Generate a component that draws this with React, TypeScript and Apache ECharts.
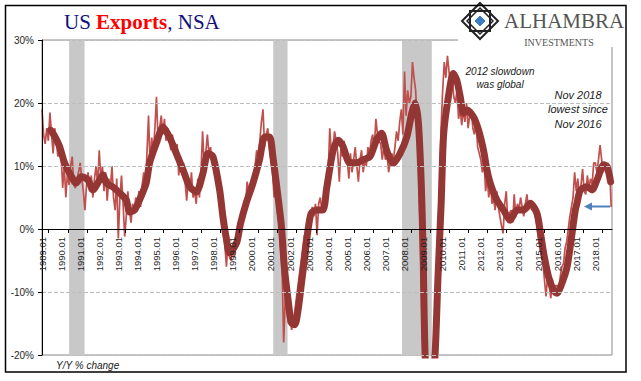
import React, { useEffect, useRef } from "react";
import * as echarts from "echarts";

// Monthly Y/Y % change of US exports (NSA), Jan 1989 .. Nov 2018
const startYear = 1989;
const rawByYear: number[][] = [
  [19, 15, 13.5, 16, 14, 18.5, 15, 12, 16, 14, 11.5, 13], // 1989
  [12, 6.5, 10, 5, 9, 7, 10, 11.5, 7, 6.5, 8, 9], // 1990
  [10.5, 8, 6, 3, 7, 9, 6, 8.5, 5, 8, 10, 7], // 1991
  [12.5, 8, 10, 6, 9, 4.5, 8, 6.5, 10, 5, 3, 8], // 1992
  [-1.5, 5, 8.5, 4, -1.2, 2, 6, 3, 1, 4, 3, 5], // 1993
  [4, 6, 3.5, 7, 9, 6.5, 12, 18, 10, 14.5, 12, 16], // 1994
  [21, 14, 16, 18, 15, 17.5, 14, 16, 14.5, 12.5, 15, 13], // 1995
  [12, 13.5, 8.5, 11, 9, 10.5, 7.5, 4.5, 8, 6, 9, 5], // 1996
  [6, 4, 8, 5, 9, 15.5, 10, 12, 15, 12, 13, 10.5], // 1997
  [10, 9, 7, 6, 4, 2, 1, -2.5, -6, -2, -4.5, -5], // 1998
  [-3, -4.5, -1, -2, 0, 1.5, 2, 4, 3.5, 7.5, 6, 7], // 1999
  [8, 7, 10, 12.5, 11, 14, 17, 19, 13, 15, 16, 13], // 2000
  [11, 9, 5, 7, 3, 1, -3, -6, -18, -11, -13, -15], // 2001
  [-14, -16, -15, -13, -11, -9, -7, -5, -3, -1, -2, 0.5], // 2002
  [0, 2, 3.5, 2, 4, -1, 4, 5, 3, 4.5, 5.5, 7], // 2003
  [9, 16, 12, 13, 15.5, 14, 12, 7.5, 13, 11.5, 14, 12], // 2004
  [11, 8, 12, 9, 11, 13, 10, 7.5, 11, 12.5, 9, 11], // 2005
  [10, 13, 12, 14, 15, 13, 17.5, 15, 14, 13.5, 11, 13], // 2006
  [11, 12, 9, 10.5, 12, 11, 13, 15.5, 14, 17, 19, 15], // 2007
  [25, 18, 22, 20, 21, 26.5, 24, 22, 17, 9, -2, -14], // 2008
  [-22, -26, -30, -28, -32, -30, -24, -18, -9, -2, 6, 16], // 2009
  [22, 26.5, 24, 27.5, 25, 22, 24, 21, 20, 22, 17.5, 19], // 2010
  [16.5, 19, 17, 20, 16, 18, 19, 16, 15, 17, 13, 12], // 2011
  [11, 9, 11, 6, 8, 5, 7.5, 4, 5, 3, 6, 3.5], // 2012
  [2, 0.5, -0.7, 4, 6, 1, 2.5, 3, 1, 5.5, 2, 4], // 2013
  [3, 5, 3.5, 2, 4, 5.5, 3, 4.5, 3, 4, 2.5, 1], // 2014
  [-1, -2.5, -4, -5, -8, -10.7, -7.5, -9, -11, -8, -10.5, -9], // 2015
  [-9, -10, -7.5, -6, -5.5, -3, -2, 0, 2, 3.5, 5, 9], // 2016
  [6, 8, 5, 7, 9.5, 6, 5.5, 8.5, 6.5, 8, 7, 10.5], // 2017
  [10.5, 9, 11, 13.3, 11, 9, 10, 9.5, 10.5, 9.5, 3.5], // 2018
];

// Smoothed trend (decimal year, % change)
const trendDates = [
  1989.45, 1989.65, 1989.92, 1990.18, 1990.44, 1990.79, 1991.06, 1991.41, 1991.67, 1992.02,
  1992.19, 1992.37, 1992.7, 1993.07, 1993.42, 1993.59, 1993.85, 1994.11, 1994.46, 1994.64,
  1994.99, 1995.34, 1995.68, 1996.04, 1996.39, 1996.74, 1997.09, 1997.44, 1997.69, 1997.96,
  1998.31, 1998.48, 1998.66, 1998.83, 1999.2, 1999.4, 1999.7, 2000.06, 2000.4, 2000.67,
  2000.93, 2001.1, 2001.37, 2001.55, 2001.7, 2001.9, 2002.07, 2002.25, 2002.42, 2002.6,
  2002.77, 2002.94, 2003.11, 2003.38, 2003.72, 2003.92, 2004.26, 2004.52, 2004.78, 2005.12,
  2005.49, 2005.84, 2006.19, 2006.53, 2006.8, 2007.06, 2007.41, 2007.77, 2008.12, 2008.38,
  2008.55, 2008.73, 2008.88, 2008.97, 2009.08, 2009.25, 2009.4, 2009.6, 2009.75, 2009.92,
  2010.05, 2010.3, 2010.56, 2010.74, 2010.92, 2011.09, 2011.27, 2011.61, 2011.88, 2012.14,
  2012.32, 2012.49, 2012.84, 2013.19, 2013.54, 2013.89, 2014.24, 2014.59, 2014.94, 2015.12,
  2015.29, 2015.55, 2015.81, 2015.99, 2016.25, 2016.52, 2016.78, 2016.95, 2017.04, 2017.22,
  2017.57, 2017.83, 2018.09, 2018.44, 2018.62, 2018.8,
];
const trendValues = [
  15.7, 14.8, 13.1, 10.5, 8.9, 7.3, 8.3, 7.8, 6.2, 7.8,
  8.6, 7.3, 6.7, 5.7, 4.6, 2.7, 3.0, 4.6, 7.3, 10.5,
  13.6, 16.2, 14.6, 12.0, 9.4, 6.7, 5.9, 8.9, 12.0, 11.5,
  6.2, 2.0, -1.5, -3.8, -2.2, 0.8, 4.1, 7.3, 11, 14.6,
  14.6, 11.5, 5.1, 0.4, -6, -11.3, -14.9, -15.2, -12.9, -8.6,
  -4.4, -0.2, 2.5, 3.0, 3.0, 6.5, 12.5, 14.1, 13.1, 10.5,
  10.5, 11, 11.5, 14.1, 15.2, 12.5, 10.4, 12.0, 14.6, 18.4,
  20.0, 16.8, 7, -3, -20, -27, -26, -20, -8, 4,
  15, 21, 24.7, 23.6, 21, 18.4, 18.9, 17.8, 15.7, 12.5,
  9.4, 7.3, 4.6, 3.0, 1.4, 3.0, 3.0, 4.1, 2.5, -0.5,
  -3.8, -7.6, -9.7, -10.2, -8.6, -6, -0.7, 3.0, 4.1, 6.2,
  6.7, 6.2, 7.8, 10.2, 9.9, 7.5,
];

// Recessions (decimal years)
const recessionStarts = [1990.42, 2001.12, 2007.87];
const recessionEnds = [1991.23, 2001.87, 2009.43];

const labelYears = [
  1989, 1990, 1991, 1992, 1993, 1994, 1995, 1996, 1997, 1998, 1999, 2000, 2001, 2002, 2003,
  2004, 2005, 2006, 2007, 2008, 2009, 2010, 2011, 2012, 2013, 2014, 2015, 2016, 2017, 2018,
];
const yTicks = [-20, -10, 0, 10, 20, 30];

export default function App() {
  const ref = useRef<HTMLDivElement>(null);
  useEffect(() => {
    if (!ref.current) return;
    const chart = echarts.init(ref.current, null, { renderer: "svg" });

    const rawPoints: number[][] = [];
    rawByYear.forEach((vals, i) =>
      vals.forEach((v, m) => rawPoints.push([startYear + i + m / 12, v]))
    );
    const trendPoints = trendDates.map((d, i) => [d, trendValues[i]]);
    const bands = recessionStarts.map((s, i) => [{ xAxis: s }, { xAxis: recessionEnds[i] }]);

    const lab = "Liberation Sans, Arial, sans-serif";
    const serif = "Liberation Serif, Times New Roman, serif";

    const gridTop = 40;
    const gridBottom = 26;
    const plotH = 381 - gridTop - gridBottom;
    const yMin = yTicks[0];
    const yMax = yTicks[yTicks.length - 1];
    const zeroOffset = -(plotH * (0 - yMin)) / (yMax - yMin);

    chart.setOption({
      animation: false,
      grid: {
        left: 42,
        right: 29,
        top: gridTop,
        bottom: gridBottom,
        outerBoundsMode: "none",
        containLabel: false,
        show: true,
        borderColor: "#8c8c8c",
        borderWidth: 1,
        backgroundColor: "transparent",
      },
      xAxis: {
        type: "value",
        min: 1989,
        max: 2018.875,
        position: "bottom",
        offset: zeroOffset,
        z: 5,
        axisLine: { show: true, onZero: false, lineStyle: { color: "#000", width: 1 } },
        axisTick: {
          show: true,
          length: 4,
          lineStyle: { color: "#000" },
          customValues: labelYears.map((y) => y + 0.35),
        },
        axisLabel: {
          customValues: labelYears,
          rotate: 90,
          margin: 8,
          fontSize: 9.5,
          fontFamily: lab,
          color: "#1f1f1f",
          formatter: (v: number) => `${Math.round(v)}.01`,
        },
        splitLine: { show: false },
      },
      yAxis: {
        type: "value",
        min: yMin,
        max: yMax,
        interval: 10,
        z: 5,
        axisLine: { show: true, onZero: false, lineStyle: { color: "#000", width: 1 } },
        axisTick: { show: true, length: 4, lineStyle: { color: "#000" } },
        axisLabel: {
          margin: 8,
          fontSize: 10,
          fontFamily: lab,
          color: "#1f1f1f",
          formatter: (v: number) => `${v}%`,
        },
        splitLine: { show: true, lineStyle: { type: "dashed", color: "#bdbdbd", width: 1 } },
      },
      series: [
        {
          type: "line",
          data: [],
          z: 1,
          silent: true,
          markArea: {
            silent: true,
            itemStyle: { color: "#C8C8C8", opacity: 1 },
            data: bands,
          },
        },
        {
          type: "line",
          data: rawPoints,
          showSymbol: false,
          symbol: "none",
          z: 2,
          lineStyle: { color: "#C0504D", width: 1.7, opacity: 1 },
        },
        {
          type: "line",
          data: trendPoints,
          showSymbol: false,
          symbol: "none",
          smooth: 0.25,
          z: 3,
          lineStyle: { color: "#943634", width: 7, cap: "round", join: "round" },
        },
      ],
      graphic: [
        { type: "rect", z: 50, shape: { x: 458, y: 7, width: 167, height: 40 }, style: { fill: "#fff" } },
        {
          type: "polygon",
          z: 51,
          shape: { points: [[480, 3], [498, 21], [480, 39], [462, 21]] },
          style: { fill: "none", stroke: "#222", lineWidth: 2 },
        },
        {
          type: "polygon",
          z: 51,
          shape: { points: [[470, 11], [490, 11], [490, 31], [470, 31]] },
          style: { fill: "none", stroke: "#222", lineWidth: 2 },
        },
        {
          type: "polygon",
          z: 51,
          shape: { points: [[480, 8], [493, 21], [480, 34], [467, 21]] },
          style: { fill: "none", stroke: "#222", lineWidth: 1.5 },
        },
        {
          type: "polygon",
          z: 52,
          shape: { points: [[480, 15], [486, 21], [480, 27], [474, 21]] },
          style: { fill: "#3C7DC4", stroke: "#fff", lineWidth: 1 },
        },
        {
          type: "text",
          z: 52,
          x: 504,
          y: 20.5,
          style: {
            text: "ALHAMBRA",
            font: `21px ${serif}`,
            fill: "#555",
            verticalAlign: "middle",
            align: "left",
          },
        },
        {
          type: "text",
          z: 52,
          x: 559,
          y: 42.5,
          style: {
            text: "INVESTMENTS",
            font: `10px ${serif}`,
            fill: "#555",
            verticalAlign: "middle",
            align: "center",
          },
        },
        {
          type: "text",
          z: 52,
          x: 64,
          y: 22,
          style: {
            text: "{a|US }{b|Exports}{a|, NSA}",
            verticalAlign: "middle",
            align: "left",
            rich: {
              a: { fontFamily: serif, fontSize: 21, fill: "#10107a", fontWeight: "normal" },
              b: { fontFamily: serif, fontSize: 21, fill: "#ff0000", fontWeight: "bold" },
            },
          },
        },
        {
          type: "text",
          z: 52,
          x: 500,
          y: 71,
          style: {
            text: "2012 slowdown",
            font: `italic 10px ${lab}`,
            fill: "#1a1a1a",
            align: "center",
            verticalAlign: "middle",
          },
        },
        {
          type: "text",
          z: 52,
          x: 500,
          y: 84.5,
          style: {
            text: "was global",
            font: `italic 10px ${lab}`,
            fill: "#1a1a1a",
            align: "center",
            verticalAlign: "middle",
          },
        },
        {
          type: "text",
          z: 52,
          x: 578,
          y: 94.5,
          style: {
            text: "Nov 2018",
            font: `italic 11px ${lab}`,
            fill: "#1a1a1a",
            align: "center",
            verticalAlign: "middle",
          },
        },
        {
          type: "text",
          z: 52,
          x: 578,
          y: 109,
          style: {
            text: "lowest since",
            font: `italic 11px ${lab}`,
            fill: "#1a1a1a",
            align: "center",
            verticalAlign: "middle",
          },
        },
        {
          type: "text",
          z: 52,
          x: 578,
          y: 124,
          style: {
            text: "Nov 2016",
            font: `italic 11px ${lab}`,
            fill: "#1a1a1a",
            align: "center",
            verticalAlign: "middle",
          },
        },
        {
          type: "line",
          z: 52,
          shape: { x1: 610, y1: 206.5, x2: 589, y2: 206.5 },
          style: { stroke: "#4F81BD", lineWidth: 2 },
        },
        {
          type: "polygon",
          z: 52,
          shape: { points: [[584, 206.5], [592, 202.5], [592, 210.5]] },
          style: { fill: "#4F81BD" },
        },
        {
          type: "text",
          z: 52,
          x: 56,
          y: 365,
          style: {
            text: "Y/Y % change",
            font: `italic 10px ${lab}`,
            fill: "#1a1a1a",
            align: "left",
            verticalAlign: "middle",
          },
        },
        {
          type: "rect",
          z: 60,
          shape: { x: 5.5, y: 5.5, width: 620.5, height: 366.5 },
          style: { fill: "none", stroke: "#000", lineWidth: 1.5 },
        },
      ],
    });
    return () => chart.dispose();
  }, []);
  return (
    <div
      ref={ref}
      style={{ position: "fixed", left: 0, top: 0, width: 641, height: 381, background: "#fff" }}
    />
  );
}
